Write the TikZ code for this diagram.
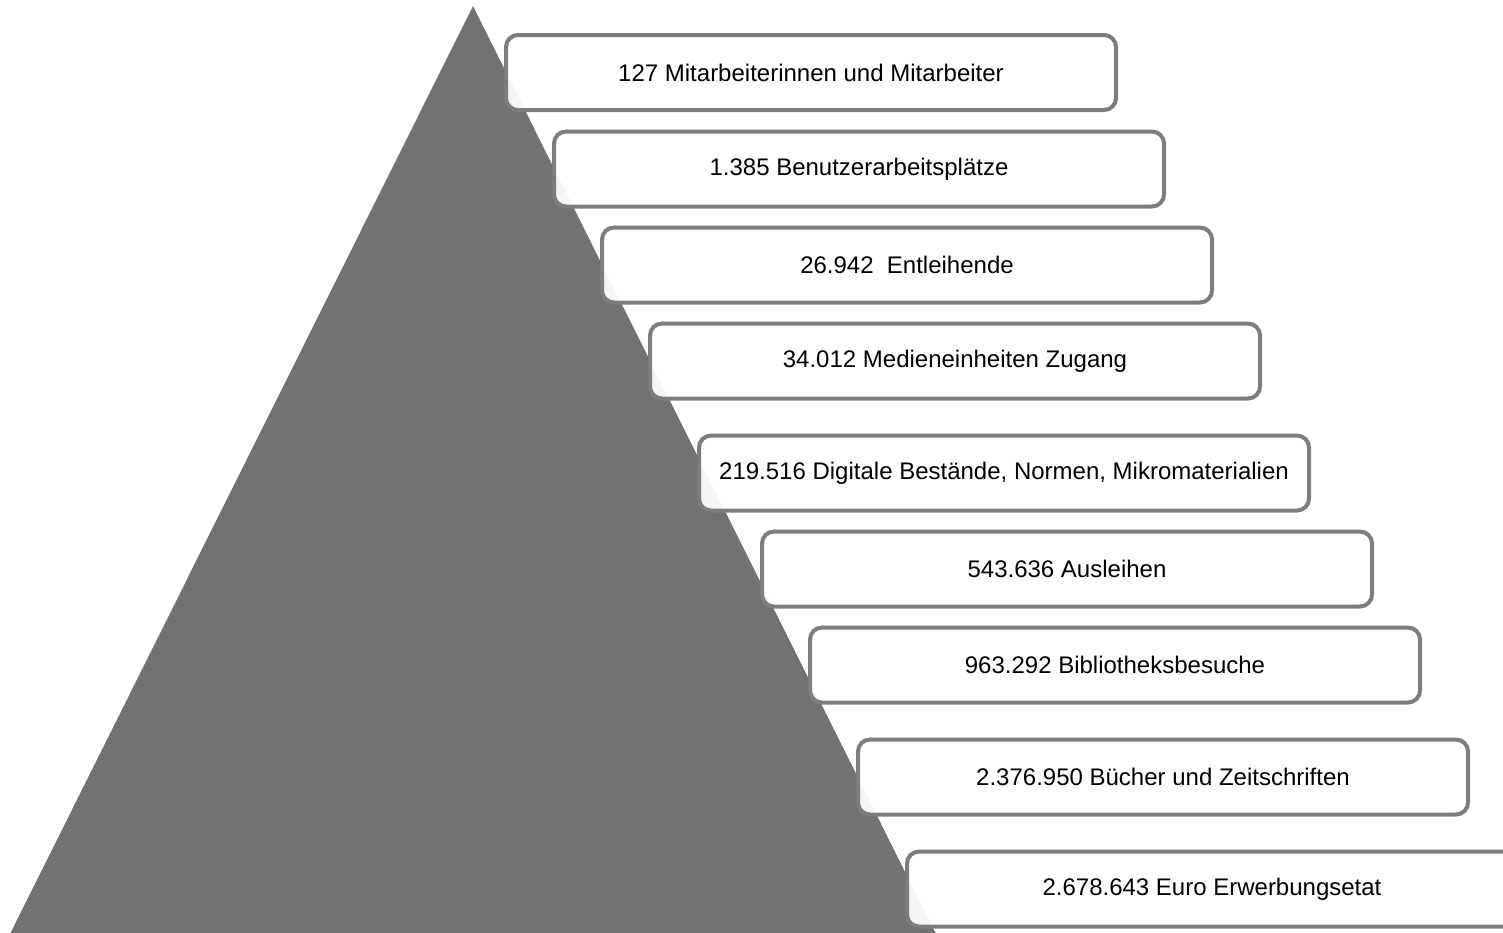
\documentclass[tikz,border=0pt]{standalone}
\usepackage{fontspec}
\setmainfont{Liberation Sans}
\definecolor{pyr}{RGB}{114,114,114}
\definecolor{boxline}{RGB}{125,125,125}
\tikzset{
  stat/.style={draw=boxline, line width=2pt, fill=white, fill opacity=0.93, text opacity=1,
    rounded corners=6pt, minimum width=305pt, minimum height=37.5pt, inner sep=0pt,
    font=\fontsize{12}{14}\selectfont, text=black}
}
\begin{document}
\begin{tikzpicture}[x=0.5pt,y=-0.5pt]
\clip (0,0) rectangle (1503,932);
\useasboundingbox (0,0) rectangle (1503,932);
\fill[pyr] (473,6) -- (936,934) -- (10,934) -- cycle;
\node[stat] (b1) at (811,72.5) {127 Mitarbeiterinnen und Mitarbeiter};
\node[stat] (b2) at (859,169) {1.385 Benutzerarbeitsplätze};
\node[stat] (b3) at (907,265) {26.942~ Entleihende};
\node[stat] (b4) at (955,361) {34.012 Medieneinheiten Zugang};
\node[stat] (b5) at (1004,473) {219.516 Digitale Bestände, Normen, Mikromaterialien};
\node[stat] (b6) at (1067,569) {543.636 Ausleihen};
\node[stat] (b7) at (1115,665) {963.292 Bibliotheksbesuche};
\node[stat] (b8) at (1163,777) {2.376.950 Bücher und Zeitschriften};
\node[stat] (b9) at (1212,889) {2.678.643 Euro Erwerbungsetat};
\end{tikzpicture}
\end{document}
